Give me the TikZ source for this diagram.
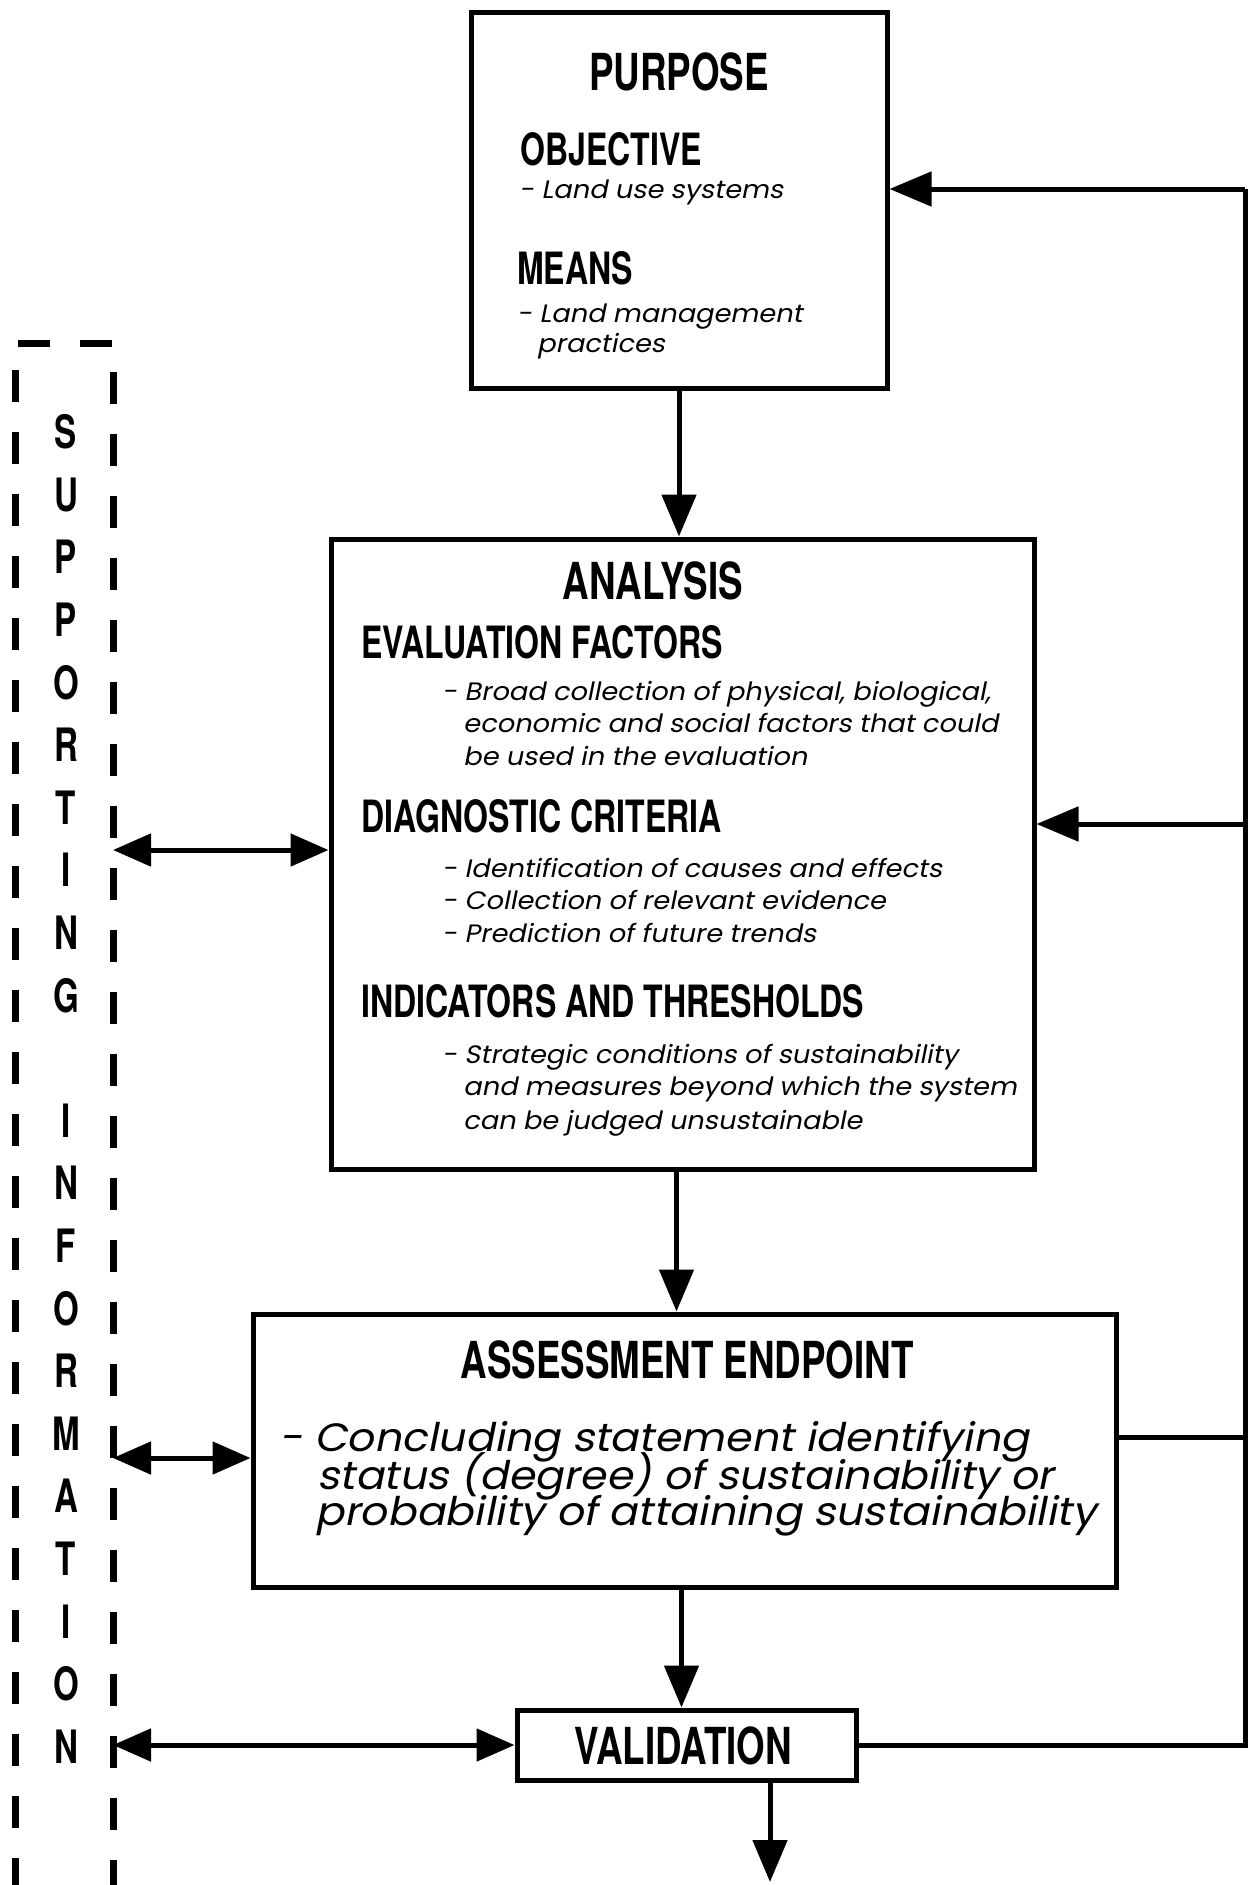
\documentclass[tikz,border=0pt]{standalone}
\usepackage{fontspec}
\usetikzlibrary{arrows.meta}
\newfontfamily\hdfont[FakeStretch=0.72]{TeX Gyre Heros Bold}
\newfontfamily\bdfont[FakeSlant=0.2,FakeStretch=1.08]{Poppins}
\begin{document}
\begin{tikzpicture}[x=1pt,y=-1pt,
  box/.style={draw, line width=5pt, inner sep=0pt},
  ttl/.style={font=\hdfont\fontsize{51}{51}\selectfont, inner sep=0pt, anchor=base},
  sub/.style={font=\hdfont\fontsize{44.5}{44.5}\selectfont, inner sep=0pt, anchor=base west},
  txt/.style={font=\bdfont\fontsize{25.2}{25.2}\selectfont, inner sep=0pt, anchor=base west},
  btxt/.style={font=\bdfont\fontsize{39.5}{39.5}\selectfont, inner sep=0pt, anchor=base west},
  side/.style={font=\hdfont\fontsize{46}{46}\selectfont, inner sep=0pt},
  conn/.style={line width=5pt, line join=miter},
  arr/.style={conn, -{Triangle[length=42pt,width=34pt]}},
  dbl/.style={conn, {Triangle[length=38pt,width=32pt]}-{Triangle[length=38pt,width=32pt]}},
  dash box/.style={line width=7pt, dash pattern=on 32pt off 30pt}]
\useasboundingbox (0,0) rectangle (1249,1885);

% main boxes
\node[box, minimum width=416pt, minimum height=376pt] (purp) at (679,200) {};
\node[box, minimum width=703pt, minimum height=630pt] (anal) at (682.5,854) {};
\node[box, minimum width=863pt, minimum height=273pt] (assess) at (684.5,1450.5) {};
\node[box, minimum width=339pt, minimum height=70pt] (valid) at (686.5,1745) {};

% PURPOSE
\node[ttl] (purpT) at (679,90) {PURPOSE};
\node[sub] (objT) at (520,165) {OBJECTIVE};
\node[txt] (obj1) at (519,198) {- Land use systems};
\node[sub] (meanT) at (517,284) {MEANS};
\node[txt] (mean1) at (517,322) {- Land management};
\node[txt] (mean2) at (537,352) {practices};

% ANALYSIS
\node[ttl] (analT) at (653,599) {ANALYSIS};
\node[sub] (evT) at (361,658) {EVALUATION FACTORS};
\node[txt] (ev1) at (442,700) {- Broad collection of physical, biological,};
\node[txt] (ev2) at (463,732) {economic and social factors that could};
\node[txt] (ev3) at (463,765) {be used in the evaluation};
\node[sub] (dgT) at (361,832) {DIAGNOSTIC CRITERIA};
\node[txt] (dg1) at (442,877) {- Identification of causes and effects};
\node[txt] (dg2) at (442,909) {- Collection of relevant evidence};
\node[txt] (dg3) at (442,942) {- Prediction of future trends};
\node[sub] (inT) at (361,1017) {INDICATORS AND THRESHOLDS};
\node[txt] (in1) at (442,1063) {- Strategic conditions of sustainability};
\node[txt] (in2) at (463,1095) {and measures beyond which the system};
\node[txt] (in3) at (463,1129) {can be judged unsustainable};

% ASSESSMENT ENDPOINT
\node[ttl] (assT) at (687,1378) {ASSESSMENT ENDPOINT};
\node[btxt] (as1) at (279,1451) {- Concluding statement identifying};
\node[btxt] (as2) at (317,1489) {status (degree) of sustainability or};
\node[btxt] (as3) at (315,1525) {probability of attaining sustainability};

% VALIDATION
\node[ttl] (valT) at (683,1764) {VALIDATION};

% supporting information column
\draw[dash box] (15,1890) -- (15,343) -- (113,343) -- (113,1890);
\foreach \ch/\k in {S/0,U/1,P/2,P/3,O/4,R/5,T/6,I/7,N/8,G/9,I/11,N/12,F/13,O/14,R/15,M/16,A/17,T/18,I/19,O/20,N/21}
  \node[side] (sup\k) at (66,{432+\k*62.6}) {\ch};

% flow down the centre
\draw[arr] (purp.south) -- (purp.south |- anal.north);
\draw[arr] ([xshift=-6pt]anal.south) -- ([xshift=-6pt]anal.south |- assess.north);
\draw[arr] ([xshift=-3pt]assess.south) -- ([xshift=-3pt]assess.south |- valid.north);
\coordinate (out) at (770,1882);
\draw[arr] (valid.south -| out) -- (out);

% feedback loop on the right
\coordinate (fbtop) at (1245,189);
\coordinate (fbmid) at (1245,824);
\coordinate (fbass) at (1245,1437);
\coordinate (fbbot) at (1245,1745);
\draw[conn] (valid.east) -- (fbbot) -- (fbtop);
\draw[arr] (fbtop) -- (purp.east |- fbtop);
\draw[arr] (fbmid) -- (anal.east |- fbmid);
\draw[conn] (assess.east |- fbass) -- (fbass);

% links to supporting information
\coordinate (sA) at (113,850);
\coordinate (sB) at (113,1458);
\coordinate (sC) at (113,1745);
\draw[dbl] (sA) -- (anal.west |- sA);
\draw[dbl] (sB) -- (assess.west |- sB);
\draw[dbl] (sC) -- (valid.west);
\end{tikzpicture}
\end{document}
